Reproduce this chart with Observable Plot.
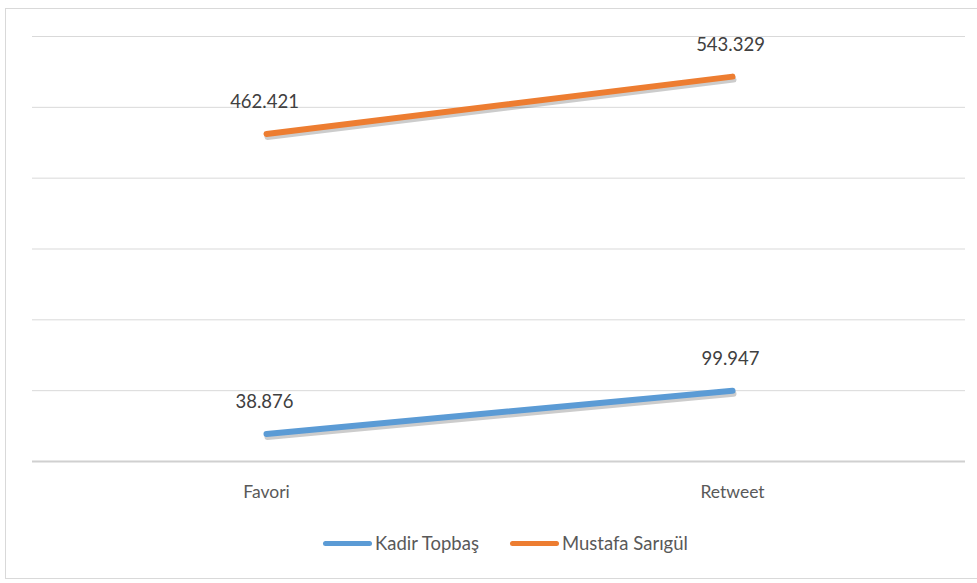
<!DOCTYPE html>
<html>
<head>
<meta charset="utf-8">
<script src="https://cdn.jsdelivr.net/npm/d3@7"></script>
<script src="https://cdn.jsdelivr.net/npm/@observablehq/plot@0.6"></script>
<style>
  html, body { margin: 0; padding: 0; background: #fff; }
  #wrap { position: relative; width: 977px; height: 583px; overflow: hidden; font-family: Lato, "Open Sans", sans-serif; }
  #frame { position: absolute; left: 5px; top: 8px; width: 976px; height: 571px; border: 1.5px solid #d9d9d9; box-sizing: border-box; }
  #chart { position: absolute; left: 0; top: 0; }
  #legend { position: absolute; left: 0; top: 532px; width: 977px; display: flex; justify-content: center; gap: 31px; font-size: 18.5px; color: #595959; padding-left: 34px; box-sizing: border-box; }
  .item { display: flex; align-items: center; }
  .sw { width: 49px; height: 5px; border-radius: 3px; margin-right: 3px; }
</style>
</head>
<body>
<div id="wrap">
  <div id="frame"></div>
  <div id="chart"></div>
  <div id="legend"></div>
</div>
<script>
const categories = ["Favori", "Retweet"];
const seriesNames = ["Kadir Topbaş", "Mustafa Sarıgül"];
const kadirValues = [38876, 99947];
const mustafaValues = [462421, 543329];
const colors = ["#5B9BD5", "#ED7D31"];
const yTicks = [0, 100000, 200000, 300000, 400000, 500000, 600000];

const data = [];
categories.forEach((c, i) => {
  data.push({category: c, series: seriesNames[0], value: kadirValues[i]});
  data.push({category: c, series: seriesNames[1], value: mustafaValues[i]});
});

const fmt = d3.formatLocale({decimal: ",", thousands: ".", grouping: [3], currency: ["", ""]}).format(",d");

const plot = Plot.plot({
  width: 977,
  height: 520,
  marginTop: 36,
  marginBottom: 59,
  marginLeft: 32,
  marginRight: 12,
  style: {fontFamily: "Lato, 'Open Sans', sans-serif", background: "transparent"},
  x: {type: "point", domain: categories, padding: 0.5, label: null},
  y: {domain: [0, 600000], axis: null},
  color: {domain: seriesNames, range: colors},
  marks: [
    Plot.ruleY(yTicks.slice(1), {stroke: "#d9d9d9", strokeWidth: 1}),
    Plot.ruleY([0], {stroke: "#d0d0d0", strokeWidth: 2}),
    Plot.axisX({tickSize: 0, tickPadding: 24, fontSize: 17.5, color: "#595959", label: null}),
    Plot.line(data, {x: "category", y: "value", z: "series", stroke: "#000", strokeOpacity: 0.2, strokeWidth: 6, dy: 3, dx: 1, strokeLinecap: "round"}),
    Plot.line(data, {x: "category", y: "value", z: "series", stroke: "series", strokeWidth: 6, strokeLinecap: "round"}),
    Plot.text(data, {x: "category", y: "value", text: d => fmt(d.value), dy: -32, dx: -2, fontSize: 18.5, fill: "#404040"})
  ]
});
document.getElementById("chart").appendChild(plot);

const legend = document.getElementById("legend");
seriesNames.forEach((s, i) => {
  const item = document.createElement("div");
  item.className = "item";
  const sw = document.createElement("div");
  sw.className = "sw";
  sw.style.background = colors[i];
  const t = document.createElement("span");
  t.textContent = s;
  item.appendChild(sw);
  item.appendChild(t);
  legend.appendChild(item);
});
</script>
</body>
</html>
